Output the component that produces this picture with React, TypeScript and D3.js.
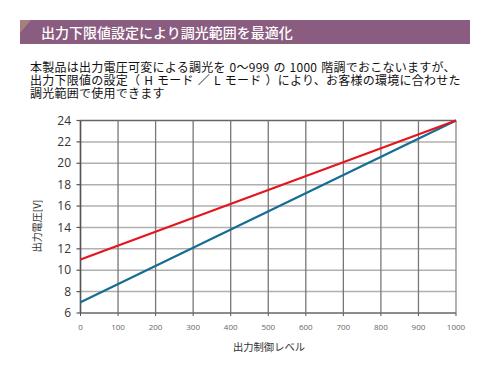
import React from "react";
import * as d3 from "d3";

const xTicks = [0, 100, 200, 300, 400, 500, 600, 700, 800, 900, 1000];
const yTicks = [6, 8, 10, 12, 14, 16, 18, 20, 22, 24];
const levels = [0, 1000];
const hMode = [11, 24];
const lMode = [7, 24];

const title = "出力下限値設定により調光範囲を最適化";
const bodyLines = [
  "本製品は出力電圧可変による調光を 0～999 の 1000 階調でおこないますが、",
  "出力下限値の設定（ H モード ／ L モード ）により、お客様の環境に合わせた",
  "調光範囲で使用できます",
];
const xTitle = "出力制御レベル";
const yTitle = "出力電圧[V]";

export default function App() {
  const W = 490, H = 370;
  const x = d3.scaleLinear().domain([0, 1000]).range([80.5, 456]);
  const y = d3.scaleLinear().domain([6, 24]).range([313, 120.5]);
  const line = d3.line<number>().x((_, i) => x(levels[i])).y((d) => y(d));
  const font = "'Noto Sans CJK JP', 'Noto Sans', sans-serif";
  return (
    <svg width={W} height={H} style={{ position: "absolute", left: 0, top: 0, background: "#fff" }} fontFamily={font}>
      <rect x={20} y={20} width={450} height={24} fill="#8a5d80" />
      <polygon points="20,20 31,20 20,33" fill="#a77f7c" />
      <text x={41} y={37.5} fill="#fff" fontSize={14} fontWeight={500}>{title}</text>
      {bodyLines.map((t, i) => (
        <text key={i} x={30} y={72 + i * 13.2} fontSize={12} wordSpacing={1} letterSpacing={0.25} fill="#111">{t}</text>
      ))}
      {yTicks.map((v) => (
        <line key={"h" + v} x1={x(0)} x2={x(1000)} y1={y(v)} y2={y(v)} stroke={v === 24 || v === 6 ? "#666" : "#b0b0b0"} strokeWidth={1.5} />
      ))}
      {xTicks.map((v) => (
        <line key={"v" + v} x1={x(v)} x2={x(v)} y1={y(24)} y2={y(6)} stroke={v === 1000 ? "#888" : "#777"} strokeWidth={1.3} />
      ))}
      <line x1={x(0)} x2={x(0)} y1={y(24)} y2={y(6)} stroke="#555" strokeWidth={1.5} />
      {yTicks.map((v) => (
        <g key={"yt" + v}>
          <line x1={x(0) - 4} x2={x(0)} y1={y(v)} y2={y(v)} stroke="#555" strokeWidth={1.2} />
          <text x={71} y={y(v)} dy="0.35em" textAnchor="end" fontSize={12} fill="#333" fontFamily="'Open Sans', sans-serif">{v}</text>
        </g>
      ))}
      {xTicks.map((v) => (
        <g key={"xt" + v}>
          <line x1={x(v)} x2={x(v)} y1={y(6)} y2={y(6) + 3} stroke="#555" strokeWidth={1} />
          <text x={x(v)} y={330} textAnchor="middle" fontSize={8} fill="#666" fontFamily="'Open Sans', sans-serif">{v}</text>
        </g>
      ))}
      <path d={line(lMode) || ""} fill="none" stroke="#166d92" strokeWidth={2.2} />
      <path d={line(hMode) || ""} fill="none" stroke="#e3161d" strokeWidth={2.2} />
      <text x={269} y={351} textAnchor="middle" fontSize={10.3} fill="#333">{xTitle}</text>
      <text transform={`translate(41,226) rotate(-90)`} textAnchor="middle" fontSize={10} fill="#333">{yTitle}</text>
    </svg>
  );
}
